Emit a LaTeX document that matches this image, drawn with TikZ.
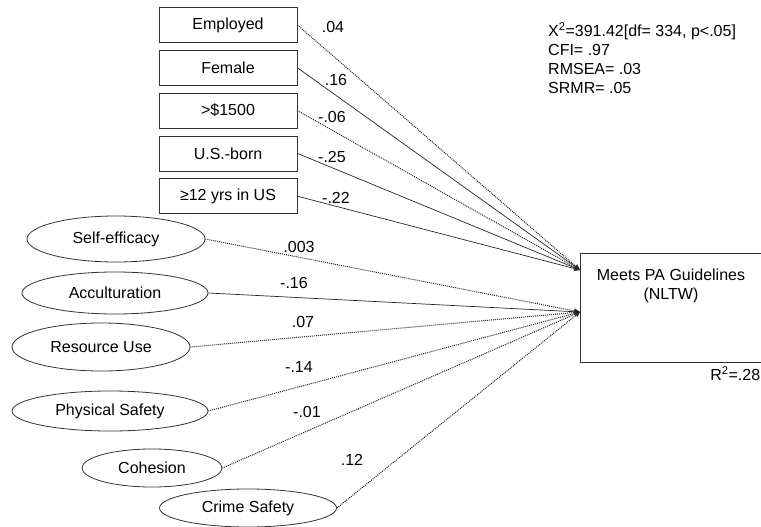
\documentclass[tikz,border=0pt]{standalone}
\usepackage{fontspec}
\setmainfont{Liberation Sans}
\usetikzlibrary{arrows.meta, positioning, shapes.geometric}

\begin{document}
\begin{tikzpicture}[x=1pt, y=-1pt,
    every node/.style={font=\fontsize{16}{19}\selectfont},
    obsbox/.style={draw=black!80, line width=0.8pt, minimum width=138pt,
                   minimum height=35pt, inner sep=0pt},
    latent/.style={ellipse, draw=black!80, line width=0.8pt, inner sep=0pt},
    sigpath/.style={-{Stealth[length=6pt, width=5pt]}, line width=0.7pt, black!85},
    nspath/.style={sigpath, line width=1pt, dash pattern=on 1pt off 1pt},
    coef/.style={inner sep=1pt}]
    \useasboundingbox (0,0) rectangle (761,527);

    % observed covariates
    \node[obsbox] (employed) at (228,25) {Employed};
    \node[obsbox, below=7pt of employed] (female) {Female};
    \node[obsbox, below=7pt of female] (income) {>\$1500};
    \node[obsbox, below=7pt of income] (usborn) {U.S.-born};
    \node[obsbox, below=7pt of usborn] (yrsus) {≥12 yrs in US};

    % latent factors
    \node[latent, minimum width=178pt, minimum height=46pt] (selfeff) at (116,239) {Self-efficacy};
    \node[latent, minimum width=186pt, minimum height=42pt] (accult) at (115,293) {Acculturation};
    \node[latent, minimum width=178pt, minimum height=48pt] (resource) at (101,347) {Resource Use};
    \node[latent, minimum width=196pt, minimum height=40pt] (physafe) at (110,411) {Physical Safety};
    \node[latent, minimum width=140pt, minimum height=38pt] (cohesion) at (152,468) {Cohesion};
    \node[latent, minimum width=177pt, minimum height=38pt] (crimesafe) at (248,508) {Crime Safety};

    % outcome
    \node[draw=black!80, line width=0.8pt, minimum width=182pt, minimum height=109pt, inner sep=0pt,
          label={[align=center, anchor=north, yshift=-13pt]north:{Meets PA Guidelines\\(NLTW)}},
          label={[anchor=north east, inner sep=2pt, yshift=-2pt]south east:{R\textsuperscript{2}=.28}}]
          (meets) at (671,307.5) {};
    \coordinate (demoin) at (580,270);
    \coordinate (latentin) at (580,312);

    % fit indices
    \node[align=left, anchor=north west, inner sep=0pt] (fitstats) at (548,22.5)
        {X\textsuperscript{2}=391.42[df= 334, p<.05]\\CFI= .97\\RMSEA= .03\\SRMR= .05};

    % paths
    \draw[nspath] (employed.east) -- (demoin);
    \draw[sigpath] (female.east) -- (demoin);
    \draw[nspath] (income.east) -- (demoin);
    \draw[sigpath] (usborn.east) -- (demoin);
    \draw[sigpath] (yrsus.east) -- (demoin);
    \draw[nspath] (selfeff.east) -- (latentin);
    \draw[sigpath] (accult.east) -- (latentin);
    \draw[nspath] (resource.east) -- (latentin);
    \draw[nspath] (physafe.east) -- (latentin);
    \draw[nspath] (cohesion.east) -- (latentin);
    \draw[nspath] (crimesafe.east) -- (latentin);

    % coefficients
    \node[coef] (bemp) at (333,27) {.04};
    \node[coef] (bfem) at (336,80) {.16};
    \node[coef] (binc) at (332,117) {-.06};
    \node[coef] (bus) at (332,157) {-.25};
    \node[coef] (byrs) at (336,198) {-.22};
    \node[coef] (bself) at (299,247) {.003};
    \node[coef] (bacc) at (294,283) {-.16};
    \node[coef] (bres) at (303,322) {.07};
    \node[coef] (bphys) at (299,367) {-.14};
    \node[coef] (bcoh) at (307,412) {-.01};
    \node[coef] (bcrime) at (352,460) {.12};
\end{tikzpicture}
\end{document}
